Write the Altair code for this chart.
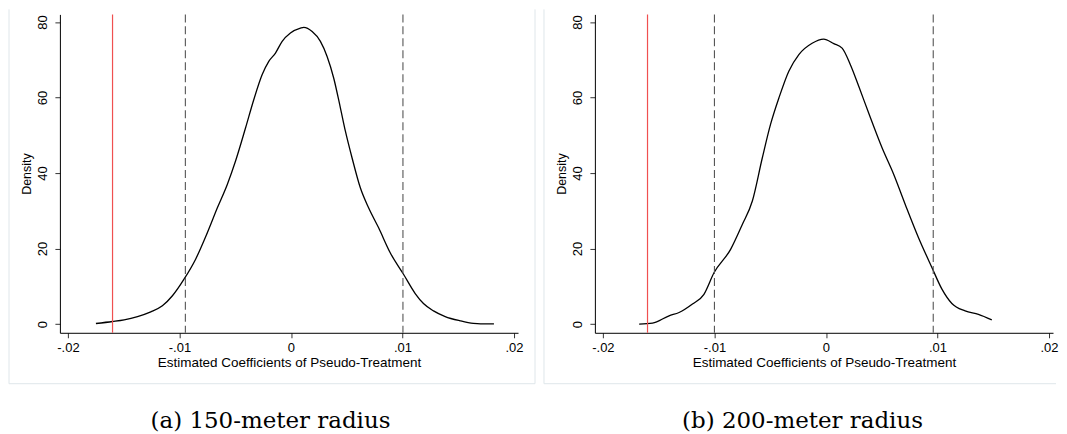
import altair as alt
import pandas as pd

# ---- data ----
x150 = [-0.01749, -0.0160, -0.01496, -0.01376, -0.01257, -0.01153, -0.01063, -0.00959,
        -0.00855, -0.0075, -0.0066, -0.00571, -0.00497, -0.00407, -0.00333, -0.00258,
        -0.00199, -0.00139, -0.00079, -0.00005, 0.00085, 0.00115, 0.0019, 0.00264,
        0.00324, 0.00383, 0.00443, 0.00488, 0.00548, 0.00622, 0.00696, 0.00786,
        0.0089, 0.01009, 0.01114, 0.01188, 0.01278, 0.01383, 0.01517, 0.01636,
        0.0170, 0.0182]
d150 = [0.16, 0.69, 1.14, 2.0, 3.25, 4.84, 7.5, 11.9,
        17.2, 24.2, 30.8, 37.0, 43.2, 52.0, 59.5, 66.1,
        69.6, 71.8, 74.9, 77.1, 78.4, 78.6, 77.5, 74.9,
        70.9, 65.2, 57.3, 51.1, 44.0, 36.1, 30.8, 25.5,
        18.9, 13.2, 8.1, 5.45, 3.5, 2.0, 0.87, 0.17,
        0.05, 0.05]

x200 = [-0.01675, -0.01555, -0.01407, -0.01317, -0.01197, -0.01094, -0.01004, -0.00855,
        -0.0075, -0.0066, -0.00571, -0.00497, -0.00422, -0.00333, -0.00243, -0.00124,
        -0.0002, 0.0007, 0.00145, 0.00219, 0.00294, 0.00383, 0.00503, 0.00607,
        0.00711, 0.0083, 0.0095, 0.0104, 0.01129, 0.01248, 0.01367, 0.01487]
d200 = [0.0, 0.26, 2.2, 3.07, 5.3, 7.9, 13.6, 19.8,
        26.4, 32.6, 44.0, 52.9, 59.9, 67.0, 71.4, 74.4,
        75.5, 74.3, 73.1, 68.7, 63.0, 55.9, 46.7, 39.7,
        31.7, 22.9, 15.0, 9.25, 5.45, 3.5, 2.6, 1.14]

red150 = [-0.0160]
dash150 = [-0.00947, 0.01004]
red200 = [-0.0160]
dash200 = [-0.0100, 0.00962]

x_ticks = [-0.02, -0.01, 0, 0.01, 0.02]
x_tick_labels = ["-.02", "-.01", "0", ".01", ".02"]
y_ticks = [0, 20, 40, 60, 80]
x_domain = [-0.02072, 0.02036]
y_domain = [-2.3, 82.04]

captions = ["(a) 150-meter radius", "(b) 200-meter radius"]
x_title = "Estimated Coefficients of Pseudo-Treatment"
y_title = "Density"

# ---- styling ----
W, H = 459, 319
FRAME = "#dfe6ea"
SANS = "Liberation Sans"

label_expr = "'" + x_tick_labels[-1] + "'"
for v, lab in reversed(list(zip(x_ticks[:-1], x_tick_labels[:-1]))):
    label_expr = f"abs(datum.value - ({v})) < 0.001 ? '{lab}' : " + label_expr

x_axis = alt.Axis(values=x_ticks, labelExpr=label_expr, title=x_title, grid=False,
                  tickSize=5, tickColor="#333333", domainColor="black", domainWidth=1,
                  labelFont=SANS, labelFontSize=13, labelColor="black", labelPadding=4,
                  labelFlush=False, titleFont=SANS, titleFontSize=13.5,
                  titleFontWeight="normal", titleColor="black", titlePadding=1)
y_axis = alt.Axis(values=y_ticks, title=y_title, grid=False, labelAngle=270,
                  tickSize=5, tickColor="#333333", domainColor="black", domainWidth=1,
                  labelFont=SANS, labelFontSize=13, labelColor="black", labelPadding=5,
                  labelFlush=False, titleFont=SANS, titleFontSize=12.5,
                  titleFontWeight="normal", titleColor="black", titlePadding=3)

one = pd.DataFrame({"k": [0]})


def panel(xs, ds, red, dashes, caption, cap_x, right_edge, draw_right):
    xs_scale = alt.Scale(domain=x_domain, nice=False, zero=False)
    ys_scale = alt.Scale(domain=y_domain, nice=False, zero=False)
    curve = alt.Chart(pd.DataFrame({"x": xs, "d": ds})).mark_line(
        color="black", strokeWidth=1.3, interpolate="monotone"
    ).encode(x=alt.X("x:Q", scale=xs_scale, axis=x_axis),
             y=alt.Y("d:Q", scale=ys_scale, axis=y_axis))
    redline = alt.Chart(pd.DataFrame({"x": red})).mark_rule(
        color="#f05050", strokeWidth=1.2).encode(x="x:Q")
    dashed = alt.Chart(pd.DataFrame({"x": dashes})).mark_rule(
        color="#555555", strokeWidth=1.1, strokeDash=[8, 4]).encode(x="x:Q")
    left_b = alt.Chart(one).mark_rule(color=FRAME, strokeWidth=1).encode(
        x=alt.value(-51), y=alt.value(-5), y2=alt.value(370))
    bottom_b = alt.Chart(one).mark_rule(color=FRAME, strokeWidth=1).encode(
        x=alt.value(-51), x2=alt.value(right_edge), y=alt.value(370))
    cap = alt.Chart(pd.DataFrame({"c": [caption]})).mark_text(
        font="DejaVu Serif", fontSize=23, color="black", align="center", baseline="middle"
    ).encode(x=alt.value(cap_x), y=alt.value(407), text="c:N")
    layers = [curve, dashed, redline, left_b, bottom_b, cap]
    if draw_right:
        right_b = alt.Chart(one).mark_rule(color=FRAME, strokeWidth=1).encode(
            x=alt.value(right_edge), y=alt.value(-5), y2=alt.value(370))
        layers.append(right_b)
    return alt.layer(*layers).properties(width=W, height=H)


p1 = panel(x150, d150, red150, dash150, captions[0], 211, 476, True)
p2 = panel(x200, d200, red200, dash200, captions[1], 208, 462, False)

chart = alt.hconcat(p1, p2, spacing=7).properties(
    padding={"left": 0, "top": 0, "right": 0, "bottom": 0},
    background="white",
).configure_view(stroke=None)

chart.save("out.html", embed_options={"renderer": "svg", "actions": False})
